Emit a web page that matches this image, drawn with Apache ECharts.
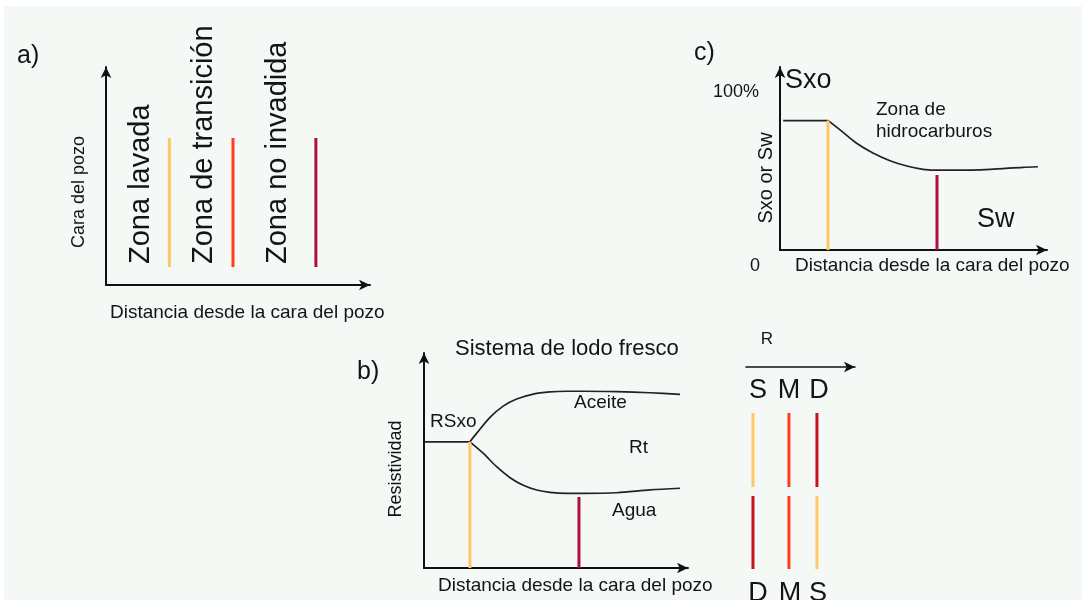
<!DOCTYPE html>
<html>
<head>
<meta charset="utf-8">
<script src="https://cdn.jsdelivr.net/npm/echarts@6/dist/echarts.min.js"></script>
<style>
html,body{margin:0;padding:0;background:#ffffff;}
#bg{position:absolute;left:4px;top:6px;width:1078px;height:594px;background:#f4f9f6;}
#chart{position:absolute;left:0;top:0;width:1082px;height:600px;}
</style>
</head>
<body>
<div id="bg"></div>
<div id="chart"></div>
<script>
// ---------- data ----------
// Panel a: zone names and boundary positions (0-100 distance units)
const zonesA = ['Zona lavada', 'Zona de transición', 'Zona no invadida'];
const boundaryXA = [24, 48.1, 79.5];
const boundarySpanA = [8.3, 67.4];

// Panel b: resistivity profiles (fresh mud system)
const flatB_X = [0, 17.4];
const flatB_Y = [58.7, 58.7];
const oilB_X = [17.4, 19.9, 25.0, 30.0, 35.1, 41.4, 47.7, 54.0, 60.3, 73.0, 85.6, 97.0];
const oilB_Y = [58.7, 62.6, 70.1, 75.3, 78.6, 80.9, 81.9, 82.2, 82.2, 82.0, 81.5, 80.8];
const waterB_X = [17.4, 22.5, 27.5, 32.6, 37.6, 42.7, 47.7, 54.0, 60.3, 73.0, 85.6, 97.0];
const waterB_Y = [58.7, 53.3, 47.1, 42.0, 38.5, 36.3, 35.2, 34.7, 34.7, 35.0, 36.3, 37.1];
const boundaryXB = [17.4, 58.7];
const boundaryTopB = [58.7, 33.0];

// Panel c: saturation profile
const flatC_X = [1.2, 18.1];
const flatC_Y = [70.7, 70.7];
const sxoC_X = [18.1, 22.5, 28.7, 34.8, 41.2, 47.5, 53.6, 59.9, 66.2, 78.7, 91.0, 96.6];
const sxoC_Y = [70.7, 65.6, 58.3, 53.0, 48.8, 45.9, 44.1, 43.6, 43.6, 44.1, 45.2, 45.5];
const boundaryXC = [18, 58.8];
const boundaryTopC = [70.7, 41];

// Legend panel: S M D curves
const curveNamesTop = ['S', 'M', 'D'];
const curveNamesBottom = ['D', 'M', 'S'];
const curveX = [6.4, 39.4, 65.1];
const topRowSpan = [40.6, 77.2];
const bottomRowSpan = [0, 36.1];

// ---------- styles ----------
const FONT = '"Liberation Sans", Arial, sans-serif';
const TXT = '#141414';
const YELLOW = '#ffc766';
const ORANGE = '#ff3d1c';
const CRIMSON = '#ad1040';
const RED = '#c8121c';
const colorsTop = [YELLOW, ORANGE, RED];
const colorsBottom = [RED, ORANGE, YELLOW];
const boundaryColors = [YELLOW, ORANGE, CRIMSON];

const chart = echarts.init(document.getElementById('chart'), null, {renderer: 'canvas'});

function pairs(xs, ys) { return xs.map((x, i) => [x, ys[i]]); }

const arrowAxis = (show, w) => ({
  show: show, onZero: false,
  lineStyle: {color: '#111', width: w || 2},
  symbol: ['none', 'arrow'],
  symbolSize: [8, 11]
});

function axisX(gridIndex, opts) {
  return Object.assign({
    type: 'value', gridIndex: gridIndex, min: 0, max: 100,
    axisLine: arrowAxis(true), axisTick: {show: false}, axisLabel: {show: false},
    splitLine: {show: false}
  }, opts || {});
}
function axisY(gridIndex, show) {
  return {
    type: 'value', gridIndex: gridIndex, min: 0, max: 100,
    axisLine: arrowAxis(show), axisTick: {show: false}, axisLabel: {show: false},
    splitLine: {show: false}
  };
}

const series = [];
function seg(idx, data, color, width, smooth) {
  series.push({
    type: 'line', xAxisIndex: idx, yAxisIndex: idx, data: data,
    showSymbol: false, symbol: 'none', smooth: smooth || false,
    lineStyle: {color: color, width: width}, silent: true
  });
}

// Panel a boundaries
boundaryXA.forEach((x, i) => seg(0, [[x, boundarySpanA[0]], [x, boundarySpanA[1]]], boundaryColors[i], 3));

// Panel b
seg(1, pairs(flatB_X, flatB_Y), '#222', 1.7);
seg(1, pairs(oilB_X, oilB_Y), '#222', 1.7, 0.3);
seg(1, pairs(waterB_X, waterB_Y), '#222', 1.7, 0.3);
seg(1, [[boundaryXB[0], 0], [boundaryXB[0], boundaryTopB[0]]], YELLOW, 3);
seg(1, [[boundaryXB[1], 0], [boundaryXB[1], boundaryTopB[1]]], CRIMSON, 3);

// Panel c
seg(2, pairs(flatC_X, flatC_Y), '#222', 1.7);
seg(2, pairs(sxoC_X, sxoC_Y), '#222', 1.7, 0.3);
seg(2, [[boundaryXC[0], 0], [boundaryXC[0], boundaryTopC[0]]], YELLOW, 3);
seg(2, [[boundaryXC[1], 0], [boundaryXC[1], boundaryTopC[1]]], CRIMSON, 3);

// Legend panel
curveX.forEach((x, i) => {
  seg(3, [[x, topRowSpan[0]], [x, topRowSpan[1]]], colorsTop[i], 3);
  seg(3, [[x, bottomRowSpan[0]], [x, bottomRowSpan[1]]], colorsBottom[i], 3);
});

function t(text, x, y, size, opts) {
  opts = opts || {};
  return {
    type: 'text', x: x, y: y, rotation: opts.rot || 0, z: 10,
    style: {
      text: text, font: (opts.weight || 'normal') + ' ' + size + 'px ' + FONT,
      fill: opts.color || TXT,
      textAlign: opts.align || 'left', textVerticalAlign: 'middle'
    }
  };
}

const R90 = Math.PI / 2;
const graphics = [
  // panel a
  t('a)', 17, 56, 25),
  t('Cara del pozo', 79, 192, 18, {rot: R90, align: 'center'}),
  t(zonesA[0], 141, 264, 29, {rot: R90}),
  t(zonesA[1], 204, 264, 29, {rot: R90}),
  t(zonesA[2], 278, 264, 29, {rot: R90}),
  t('Distancia desde la cara del pozo', 110, 313, 19),
  // panel c
  t('c)', 694, 53, 25),
  t('100%', 713, 92, 18),
  t('Sxo', 785, 81, 27),
  t('Zona de', 876, 110, 19),
  t('hidrocarburos', 876, 132, 19),
  t('Sxo or Sw', 766, 178, 20, {rot: R90, align: 'center'}),
  t('Sw', 977, 220, 27),
  t('0', 750, 266, 18),
  t('Distancia desde la cara del pozo', 795, 266, 19),
  // panel b
  t('Sistema de lodo fresco', 455, 349, 22),
  t('b)', 357, 372, 25),
  t('RSxo', 430, 422, 19),
  t('Aceite', 574, 403, 19),
  t('Rt', 629, 448, 19),
  t('Agua', 612, 511, 19),
  t('Resistividad', 396, 469, 18, {rot: R90, align: 'center'}),
  t('Distancia desde la cara del pozo', 438, 586, 19),
  // legend panel
  t('R', 767, 339, 17, {align: 'center'}),
  t(curveNamesTop[0], 758, 391, 27, {align: 'center'}),
  t(curveNamesTop[1], 789, 391, 27, {align: 'center'}),
  t(curveNamesTop[2], 819, 391, 27, {align: 'center'}),
  t(curveNamesBottom[0], 758, 594, 27, {align: 'center'}),
  t(curveNamesBottom[1], 790, 594, 27, {align: 'center'}),
  t(curveNamesBottom[2], 818, 594, 27, {align: 'center'})
];

chart.setOption({
  animation: false,
  backgroundColor: 'transparent',
  grid: [
    {left: 106, top: 67, width: 264, height: 218},
    {left: 424, top: 353, width: 264, height: 215},
    {left: 780, top: 67, width: 267, height: 183},
    {left: 746, top: 367, width: 109, height: 202}
  ],
  xAxis: [
    axisX(0), axisX(1), axisX(2),
    axisX(3, {position: 'top', axisLine: arrowAxis(true, 1.6)})
  ],
  yAxis: [axisY(0, true), axisY(1, true), axisY(2, true), axisY(3, false)],
  series: series,
  graphic: graphics
});
</script>
</body>
</html>
